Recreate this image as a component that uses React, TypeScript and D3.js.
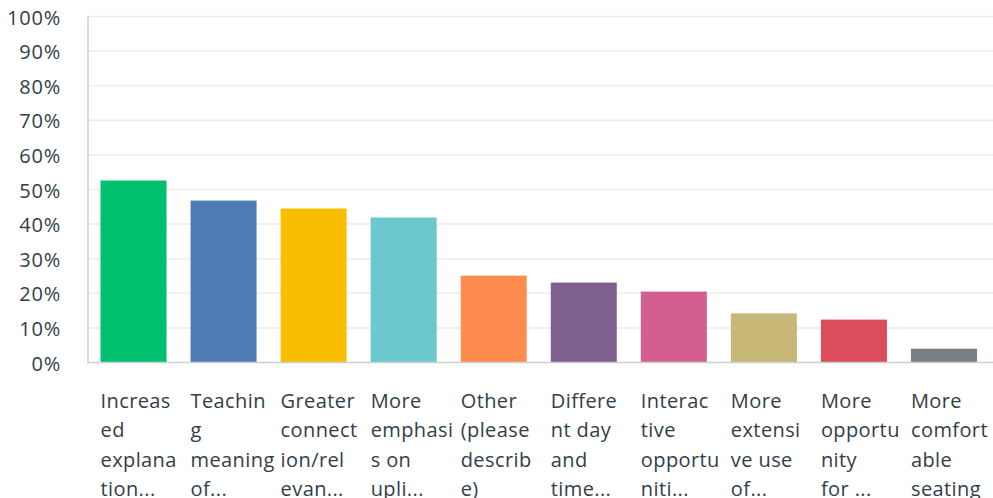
import React from "react";
import * as d3 from "d3";

const categories = [
  ["Increas", "ed", "explana", "tion..."],
  ["Teachin", "g", "meaning", "of..."],
  ["Greater", "connect", "ion/rel", "evan..."],
  ["More", "emphasi", "s on", "upli..."],
  ["Other", "(please", "describ", "e)"],
  ["Differe", "nt day", "and", "time..."],
  ["Interac", "tive", "opportu", "niti..."],
  ["More", "extensi", "ve use", "of..."],
  ["More", "opportu", "nity", "for ..."],
  ["More", "comfort", "able", "seating"],
];
const values = [52.6, 46.8, 44.5, 41.9, 25.1, 23.1, 20.5, 14.2, 12.4, 4.0];
const colors = ["#00BF6F", "#507CB6", "#F9BE00", "#6BC8CD", "#FF8B4F", "#7F5F90", "#D25F90", "#C8B877", "#DB4D5C", "#768086"];
const yTicks = [0, 10, 20, 30, 40, 50, 60, 70, 80, 90, 100];

const W = 993, H = 498;
const left = 88, right = 989, top = 16.5, bottom = 362.5;

export default function App() {
  const x = d3.scaleBand<number>().domain(d3.range(values.length)).range([left + 0.5, right]).paddingInner(0.267).paddingOuter(0.1335);
  const y = d3.scaleLinear().domain([0, 100]).range([bottom, top]);
  const font = "'Open Sans', sans-serif";
  return (
    <svg width={W} height={H} style={{ position: "absolute", left: 0, top: 0, background: "#fff" }}>
      {yTicks.map((t) => (
        <g key={t}>
          {t > 0 && <line x1={left} x2={W} y1={y(t)} y2={y(t)} stroke="#EDEDED" strokeWidth={1.5} />}
          <text x={61} y={y(t)} dy="0.4em" textAnchor="end" fontFamily={font} fontSize={20} letterSpacing={0.8} fill="#333E48">{t}%</text>
        </g>
      ))}
      {values.map((v, i) => (
        <rect key={i} x={x(i)} y={y(v)} width={x.bandwidth()} height={y(0) - y(v)} fill={colors[i]} />
      ))}
      <line x1={left} x2={left} y1={top} y2={bottom + 1} stroke="#CFCFCF" strokeWidth={1.5} />
      <line x1={left} x2={W} y1={bottom} y2={bottom} stroke="#CFCFCF" strokeWidth={1.5} />
      {categories.map((lines, i) => (
        <text key={i} x={x(i)!} y={408} fontFamily={font} fontSize={20} letterSpacing={0.4} fill="#333E48">
          {lines.map((l, j) => (
            <tspan key={j} x={x(i)!} dy={j === 0 ? 0 : 29.3}>{l}</tspan>
          ))}
        </text>
      ))}
    </svg>
  );
}
